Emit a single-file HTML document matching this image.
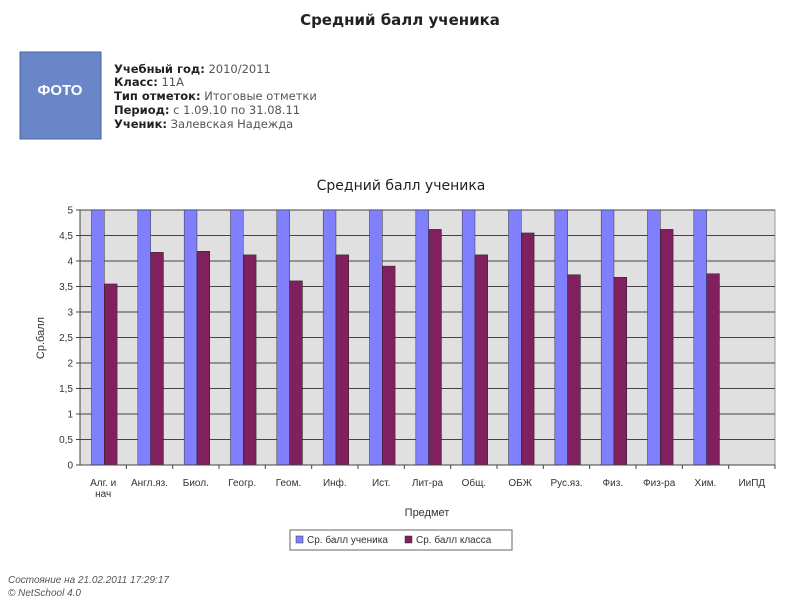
<!DOCTYPE html>
<html><head><meta charset="utf-8"><style>
body{margin:0;background:#fff;width:800px;height:600px;overflow:hidden}
svg{display:block}
</style></head><body>
<svg width="800" height="600" xmlns="http://www.w3.org/2000/svg" font-family="Liberation Sans, DejaVu Sans, sans-serif">
<text x="400" y="25" text-anchor="middle" font-size="15" font-weight="bold" fill="#222" font-family="DejaVu Sans, sans-serif">Средний балл ученика</text>
<rect x="20" y="52" width="81" height="87" fill="#6b86c8" stroke="#4a62a0"/>
<text x="60" y="95" text-anchor="middle" font-size="15" font-weight="bold" fill="#fff">ФОТО</text>
<g font-family="DejaVu Sans, sans-serif" font-size="11.5" fill="#555">
<text x="114" y="73"><tspan font-weight="bold" fill="#222">Учебный год:</tspan> 2010/2011</text>
<text x="114" y="86"><tspan font-weight="bold" fill="#222">Класс:</tspan> 11А</text>
<text x="114" y="100"><tspan font-weight="bold" fill="#222">Тип отметок:</tspan> Итоговые отметки</text>
<text x="114" y="114"><tspan font-weight="bold" fill="#222">Период:</tspan> с 1.09.10 по 31.08.11</text>
<text x="114" y="128"><tspan font-weight="bold" fill="#222">Ученик:</tspan> Залевская Надежда</text>
</g>
<text x="401" y="190" text-anchor="middle" font-size="14" fill="#222" font-family="DejaVu Sans, sans-serif">Средний балл ученика</text>
<rect x="80" y="210" width="695" height="255" fill="#e0e0e0" stroke="#999"/>
<g stroke="#444" stroke-width="1">
<line x1="80" y1="235.5" x2="775" y2="235.5"/><line x1="80" y1="261" x2="775" y2="261"/>
<line x1="80" y1="286.5" x2="775" y2="286.5"/><line x1="80" y1="312" x2="775" y2="312"/>
<line x1="80" y1="337.5" x2="775" y2="337.5"/><line x1="80" y1="363" x2="775" y2="363"/>
<line x1="80" y1="388.5" x2="775" y2="388.5"/><line x1="80" y1="414" x2="775" y2="414"/>
<line x1="80" y1="439.5" x2="775" y2="439.5"/><line x1="80" y1="210" x2="775" y2="210"/>
</g>
<g id="bars"></g>
<line x1="80" y1="210" x2="80" y2="465" stroke="#444"/>
<line x1="80" y1="465" x2="775" y2="465" stroke="#444"/>
<g font-size="10" fill="#333" text-anchor="end" id="yl"></g>
<g font-size="10" fill="#333" text-anchor="middle" id="xl"></g>
<text transform="translate(44,338) rotate(-90)" text-anchor="middle" font-size="11" fill="#333">Ср.балл</text>
<text x="427" y="516" text-anchor="middle" font-size="11" fill="#333">Предмет</text>
<rect x="290" y="530" width="222" height="20" fill="#fff" stroke="#666"/>
<rect x="296" y="536" width="7" height="7" fill="#8080ff" stroke="#333" stroke-width="0.5"/>
<text x="307" y="543" font-size="10" fill="#333">Ср. балл ученика</text>
<rect x="405" y="536" width="7" height="7" fill="#80205f" stroke="#333" stroke-width="0.5"/>
<text x="416" y="543" font-size="10" fill="#333">Ср. балл класса</text>
<text x="8" y="583" font-size="10" font-style="italic" fill="#555">Состояние на 21.02.2011 17:29:17</text>
<text x="8" y="596" font-size="10" font-style="italic" fill="#555">© NetSchool 4.0</text>
</svg>
<script>
var ns="http://www.w3.org/2000/svg";
function el(p,t,a,txt){var e=document.createElementNS(ns,t);for(var k in a)e.setAttribute(k,a[k]);if(txt!=null)e.textContent=txt;p.appendChild(e);return e;}
var cls=[3.55,4.17,4.19,4.12,3.61,4.12,3.9,4.62,4.12,4.55,3.73,3.68,4.62,3.75];
var labs=["Алг. и|нач","Англ.яз.","Биол.","Геогр.","Геом.","Инф.","Ист.","Лит-ра","Общ.","ОБЖ","Рус.яз.","Физ.","Физ-ра","Хим.","ИиПД"];
var b=document.getElementById("bars"),xl=document.getElementById("xl"),yl=document.getElementById("yl");
var w=695/15,y0=465,s=51;
for(var i=0;i<15;i++){
 var x=80+i*w;
 if(i<14){
  el(b,"rect",{x:x+11.5,y:210,width:12.8,height:255,fill:"#8080ff",stroke:"#333","stroke-width":0.5});
  el(b,"rect",{x:x+24.3,y:y0-cls[i]*s,width:12.8,height:cls[i]*s,fill:"#80205f",stroke:"#222","stroke-width":0.5});
 }
 el(b,"line",{x1:x+w,y1:465,x2:x+w,y2:469,stroke:"#444"});
 var L=labs[i].split("|");
 for(var j=0;j<L.length;j++) el(xl,"text",{x:x+w/2,y:486+j*11},L[j]);
}
for(var k=0;k<=10;k++){
 var yy=465-k*25.5;
 el(b,"line",{x1:76,y1:yy,x2:80,y2:yy,stroke:"#444"});
 el(yl,"text",{x:73,y:yy+3.5},(k/2).toString().replace(".",","));
}
</script>
</body></html>
